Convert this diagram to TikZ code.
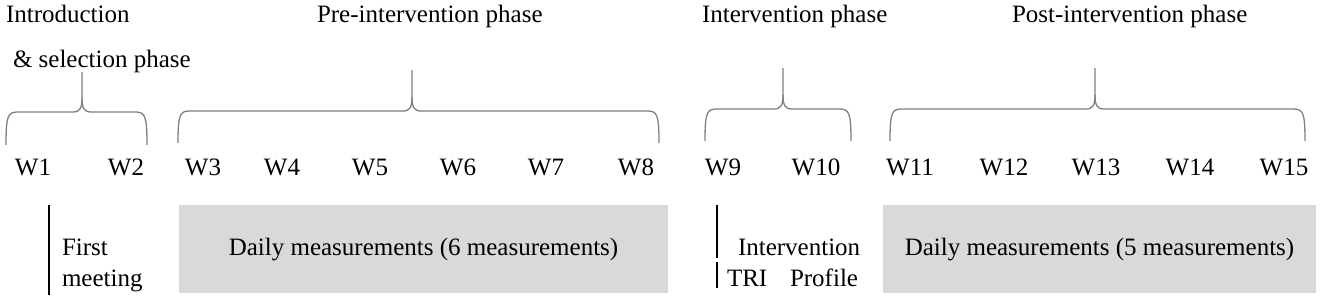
\documentclass[tikz,border=0pt]{standalone}
\usepackage{fontspec}
\setmainfont{Liberation Serif}
\begin{document}
\begin{tikzpicture}[x=1pt,y=-1pt,
  txt/.style={inner sep=0pt,outer sep=0pt,font=\fontsize{25}{30}\selectfont,anchor=base},
  txtw/.style={txt,anchor=base west},
  bracepath/.style={draw=black!50,line width=1.3pt},
  graybox/.style={fill=black!15,draw=none},
  bar/.style={draw=black,line width=1.6pt}]
\useasboundingbox (0,0) rectangle (1320,297);
% phase titles
\node[txtw] (intro) at (6,22) {Introduction};
\node[txtw] (intro2) at (13,67) {\& selection phase};
\node[txtw] (pre) at (317,22) {Pre-intervention phase};
\node[txtw] (inter) at (702,22) {Intervention phase};
\node[txtw] (post) at (1012,22) {Post-intervention phase};
% braces
\foreach \xa/\xb/\p/\t/\f/\e in {6/147/82/72/112/145, 178/659/412/70/111/143, 705/851/783/68/109/141, 890/1305/1095/68/109/141}{
  \draw[bracepath] (\xa,\e) .. controls (\xa,\f+3) and (\xa+2,\f) .. (\xa+12,\f) -- (\p-9,\f)
     .. controls (\p-2,\f) and (\p,\f-4) .. (\p,\f-14) -- (\p,\t);
  \draw[bracepath] (\p,\f-14) .. controls (\p,\f-4) and (\p+2,\f) .. (\p+9,\f) -- (\xb-12,\f)
     .. controls (\xb-2,\f) and (\xb,\f+3) .. (\xb,\e);
}
% week labels
\foreach \x [count=\i] in {33,126,203,282,370,458,546,636,723,816,910,1004,1096,1190,1284}{
  \node[txt] (w\i) at (\x,175) {W\i};
}
% grey boxes
\path[graybox] (179,205) rectangle (668,293);
\path[graybox] (883,205) rectangle (1316,293);
\node[txt] (daily1) at (423.5,255) {Daily measurements (6 measurements)};
\node[txt] (daily2) at (1099.5,255) {Daily measurements (5 measurements)};
% first meeting
\coordinate (fmTop) at (49,205);
\coordinate (fmBot) at (49,295);
\draw[bar] (fmTop) -- (fmBot);
\node[txtw] (first) at (62,255) {First};
\node[txtw] (meeting) at (62,286) {meeting};
% intervention
\coordinate (ivTop) at (717,205);
\coordinate (ivMidA) at (717,258);
\coordinate (ivMidB) at (717,262);
\coordinate (ivBot) at (717,288);
\draw[bar] (ivTop) -- (ivMidA);
\draw[bar] (ivMidB) -- (ivBot);
\node[txtw] (intervention) at (738,255) {Intervention};
\node[txtw] (tri) at (727,286) {TRI};
\node[txtw] (profile) at (790,286) {Profile};
\end{tikzpicture}
\end{document}
